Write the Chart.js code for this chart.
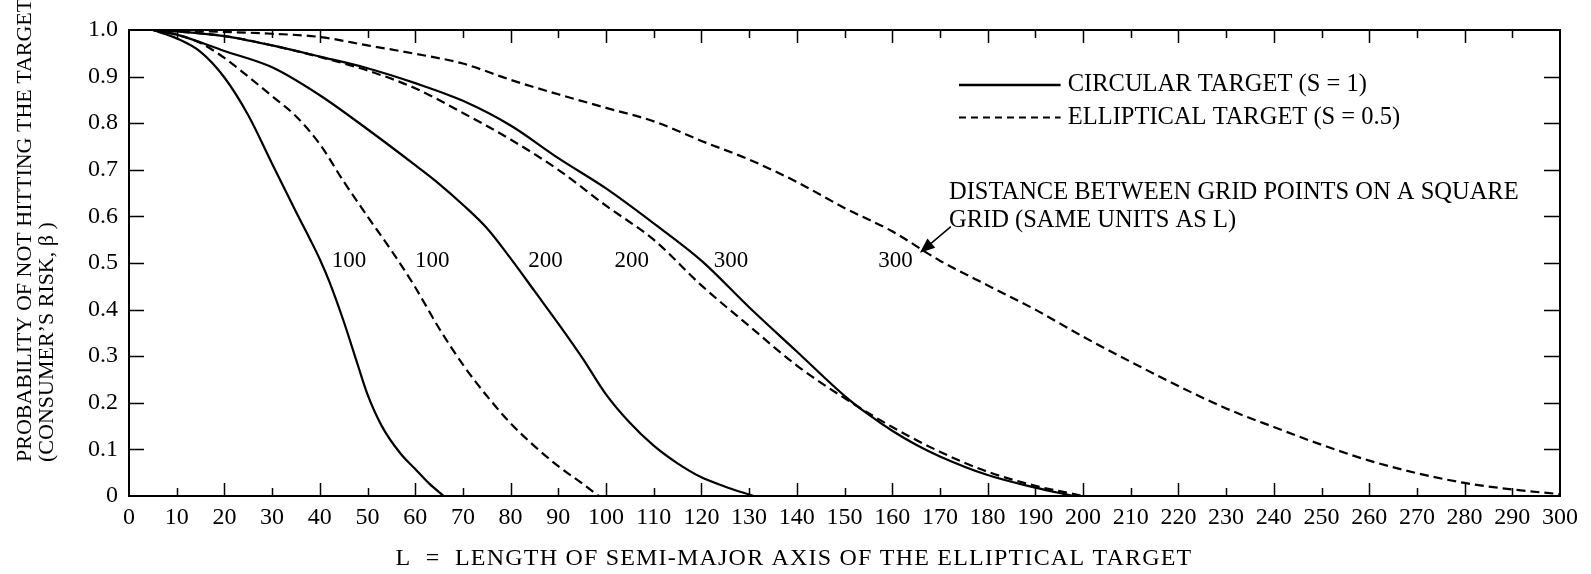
<!DOCTYPE html>
<html>
<head>
<meta charset="utf-8">
<script src="https://cdn.jsdelivr.net/npm/chart.js@4"></script>
<style>
html,body{margin:0;padding:0;background:#fff;}
#wrap{width:1591px;height:574px;}
</style>
</head>
<body>
<div id="wrap"><canvas id="c" width="1591" height="574"></canvas></div>
<script>
// ---- data ----
const circ100X = [5,10,15,20,25,30,35,38,40,42,45,48,50,53,57,60,63,66];
const circ100Y = [1.0,0.982,0.953,0.898,0.817,0.713,0.61,0.55,0.508,0.46,0.375,0.28,0.218,0.15,0.09,0.058,0.026,0];

const ell100X = [5,10,15,20,25,30,35,40,45,50,55,60,65,70,75,80,85,90,95,98.5];
const ell100Y = [1.0,0.99,0.972,0.94,0.90,0.858,0.815,0.755,0.675,0.60,0.527,0.448,0.36,0.282,0.215,0.156,0.107,0.064,0.027,0];

const circ200X = [5,10,20,30,40,50,60,65,70,75,80,85,90,95,100,105,110,115,120,125,131];
const circ200Y = [1.0,0.99,0.955,0.92,0.86,0.787,0.71,0.67,0.625,0.575,0.51,0.44,0.37,0.297,0.218,0.157,0.108,0.07,0.04,0.02,0];

const circ300X = [5,10,20,30,40,50,60,70,80,90,100,110,120,130,140,150,155,160,165,170,180,190,198];
const circ300Y = [1.0,0.997,0.987,0.967,0.943,0.918,0.886,0.848,0.795,0.725,0.66,0.585,0.505,0.405,0.31,0.215,0.175,0.14,0.11,0.085,0.045,0.018,0];

const ell200X = [5,10,20,30,40,50,60,70,80,90,100,110,120,130,140,150,160,170,180,190,200];
const ell200Y = [1.0,0.997,0.987,0.967,0.942,0.913,0.875,0.822,0.765,0.70,0.623,0.55,0.452,0.365,0.28,0.21,0.148,0.095,0.052,0.022,0];

const ell300X = [5,10,20,30,40,50,60,70,80,90,100,110,120,130,140,150,160,170,180,190,200,210,220,230,240,250,260,270,280,290,300];
const ell300Y = [1.0,0.999,0.996,0.992,0.985,0.967,0.949,0.928,0.893,0.862,0.833,0.804,0.762,0.722,0.674,0.618,0.568,0.505,0.452,0.40,0.342,0.288,0.236,0.188,0.148,0.11,0.076,0.049,0.028,0.014,0.004];

// curve labels (grid spacing) at data positions
const curveLabelText = ['100','100','200','200','300','300'];
const curveLabelX = [46.1,63.6,87.3,105.4,126.2,160.7];
const curveLabelY = [0.505,0.505,0.505,0.505,0.505,0.505];

const legendLabels = ['CIRCULAR TARGET (S = 1)','ELLIPTICAL TARGET (S = 0.5)'];
const noteLines = ['DISTANCE BETWEEN GRID POINTS ON A SQUARE','GRID (SAME UNITS AS L)'];
const yTitleLines = ['PROBABILITY OF NOT HITTING THE TARGET','(CONSUMER\u2019S RISK, \u03B2 )'];
const xTitle = 'L  =  LENGTH OF SEMI-MAJOR AXIS OF THE ELLIPTICAL TARGET';

const FONT = '"Liberation Serif","Times New Roman",Times,serif';

function pts(xs, ys){ return xs.map((x,i)=>({x:x, y:ys[i]})); }
function ds(xs, ys, dashed){
  return {
    data: pts(xs, ys),
    borderColor:'#000',
    borderWidth: 2.2,
    borderDash: dashed ? [9,5] : [],
    pointRadius:0,
    fill:false,
    cubicInterpolationMode:'monotone'
  };
}

const decor = {
  id:'decor',
  afterDraw(chart){
    const ctx = chart.ctx;
    const a = chart.chartArea;
    const xs = chart.scales.x, ys = chart.scales.y;
    ctx.save();
    ctx.strokeStyle = '#000';
    ctx.fillStyle = '#000';
    // frame
    ctx.lineWidth = 2;
    ctx.setLineDash([]);
    ctx.strokeRect(a.left, a.top, a.right - a.left, a.bottom - a.top);
    // inner ticks x (bottom & top)
    ctx.lineWidth = 1.5;
    ctx.beginPath();
    for (let v = 10; v < 300; v += 10){
      const px = Math.round(xs.getPixelForValue(v)) + 0.5;
      const len = (v % 20 === 0) ? 13 : 8;
      ctx.moveTo(px, a.bottom); ctx.lineTo(px, a.bottom - len);
      ctx.moveTo(px, a.top); ctx.lineTo(px, a.top + len);
    }
    // inner ticks y (left & right)
    for (let i = 1; i < 10; i++){
      const py = Math.round(ys.getPixelForValue(i/10)) + 0.5;
      ctx.moveTo(a.left, py); ctx.lineTo(a.left + 15, py);
      ctx.moveTo(a.right, py); ctx.lineTo(a.right - 16, py);
    }
    ctx.stroke();

    ctx.textBaseline = 'middle';
    // curve labels
    ctx.font = '23px ' + FONT;
    ctx.textAlign = 'center';
    for (let i = 0; i < curveLabelText.length; i++){
      ctx.fillText(curveLabelText[i], xs.getPixelForValue(curveLabelX[i]), ys.getPixelForValue(curveLabelY[i]));
    }
    // legend
    ctx.font = '24.5px ' + FONT;
    ctx.textAlign = 'left';
    const lx0 = xs.getPixelForValue(174), lx1 = xs.getPixelForValue(195.3), tx = xs.getPixelForValue(196.8);
    const ly = [ys.getPixelForValue(0.882), ys.getPixelForValue(0.812)];
    ctx.lineWidth = 2.5;
    ctx.beginPath(); ctx.moveTo(lx0, ly[0]); ctx.lineTo(lx1, ly[0]); ctx.stroke();
    ctx.lineWidth = 2;
    ctx.setLineDash([7,5]);
    ctx.beginPath(); ctx.moveTo(lx0, ly[1]); ctx.lineTo(lx1, ly[1]); ctx.stroke();
    ctx.setLineDash([]);
    ctx.fillText(legendLabels[0], tx, ly[0]);
    ctx.fillText(legendLabels[1], tx, ly[1]);
    // note
    const nx = xs.getPixelForValue(171.9);
    ctx.fillText(noteLines[0], nx, ys.getPixelForValue(0.651));
    ctx.fillText(noteLines[1], nx, ys.getPixelForValue(0.59));
    // arrow
    const ax0 = xs.getPixelForValue(172.3), ay0 = ys.getPixelForValue(0.578);
    const ax1 = xs.getPixelForValue(165.8), ay1 = ys.getPixelForValue(0.522);
    const ang = Math.atan2(ay1 - ay0, ax1 - ax0);
    ctx.lineWidth = 1.5;
    ctx.beginPath(); ctx.moveTo(ax0, ay0); ctx.lineTo(ax1 - 8*Math.cos(ang), ay1 - 8*Math.sin(ang)); ctx.stroke();
    ctx.beginPath();
    ctx.moveTo(ax1, ay1);
    ctx.lineTo(ax1 - 15*Math.cos(ang) + 6*Math.sin(ang), ay1 - 15*Math.sin(ang) - 6*Math.cos(ang));
    ctx.lineTo(ax1 - 15*Math.cos(ang) - 6*Math.sin(ang), ay1 - 15*Math.sin(ang) + 6*Math.cos(ang));
    ctx.closePath(); ctx.fill();
    // axis titles
    ctx.font = '24px ' + FONT;
    ctx.textAlign = 'center';
    try { ctx.letterSpacing = '1.2px'; } catch(e) {}
    ctx.fillText(xTitle, 794, 559);
    try { ctx.letterSpacing = '0px'; } catch(e) {}
    ctx.font = '22px ' + FONT;
    ctx.textAlign = 'left';
    const yt = [25.5, 47.5];
    for (let i = 0; i < 2; i++){
      ctx.save();
      ctx.translate(yt[i], 462);
      ctx.rotate(-Math.PI/2);
      ctx.fillText(yTitleLines[i], 0, 0);
      ctx.restore();
    }
    ctx.restore();
  }
};

new Chart(document.getElementById('c'), {
  type:'line',
  data:{ datasets:[
    ds(circ100X, circ100Y, false),
    ds(ell100X, ell100Y, true),
    ds(circ200X, circ200Y, false),
    ds(ell200X, ell200Y, true),
    ds(circ300X, circ300Y, false),
    ds(ell300X, ell300Y, true)
  ]},
  options:{
    responsive:false,
    animation:false,
    devicePixelRatio:1,
    layout:{ padding:{ left:0, right:31, top:30, bottom:0 } },
    plugins:{ legend:{display:false}, tooltip:{enabled:false} },
    scales:{
      x:{
        type:'linear', min:0, max:300,
        grid:{ display:false, drawTicks:false },
        border:{ display:false },
        ticks:{ stepSize:10, autoSkip:false, maxRotation:0, color:'#000', padding:7,
                font:{ family:FONT, size:24 } },
        afterFit(s){ s.height = 78; }
      },
      y:{
        type:'linear', min:0, max:1,
        grid:{ display:false, drawTicks:false },
        border:{ display:false },
        ticks:{ stepSize:0.1, color:'#000', padding:11, font:{ family:FONT, size:24 },
                callback:(v)=>{ const r = Math.round(v*10)/10; return r === 0 ? '0' : r.toFixed(1); } },
        afterFit(s){ s.width = 129; }
      }
    }
  },
  plugins:[decor]
});
</script>
</body>
</html>
